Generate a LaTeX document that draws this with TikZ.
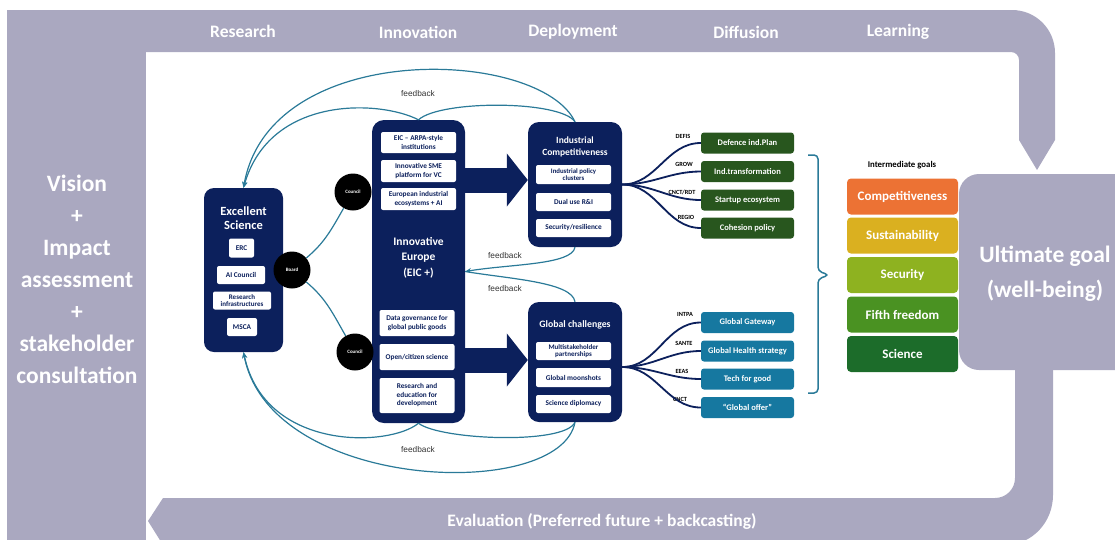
\documentclass[tikz,border=0pt]{standalone}
\usepackage{fontspec}
\setmainfont{Carlito}
\newfontfamily\fbfont{Liberation Sans}
\usetikzlibrary{arrows.meta}
\definecolor{frame}{RGB}{170,168,192}
\definecolor{navy}{RGB}{12,32,92}
\definecolor{fbline}{RGB}{42,122,152}
\definecolor{dgreen}{RGB}{40,86,30}
\definecolor{dblue}{RGB}{22,120,160}
\definecolor{gorange}{RGB}{236,114,52}
\definecolor{gyellow}{RGB}{218,176,32}
\definecolor{glime}{RGB}{142,178,32}
\definecolor{ggreen}{RGB}{74,146,34}
\definecolor{gdark}{RGB}{28,108,42}
\newcommand\fsz[2]{\fontsize{#1}{#2}\selectfont}
\begin{document}
\begin{tikzpicture}[x=1pt,y=-1pt,
  navybox/.style={fill=navy, draw=none, rounded corners=11pt, inner sep=0pt},
  navytitle/.style={text=white, align=center, inner sep=0pt},
  wbox/.style={fill=white, rounded corners=2pt, text=navy, align=center, inner sep=0pt, font=\bfseries\fsz{7.3}{8.5}},
  circ/.style={circle, fill=black, minimum size=37pt, inner sep=0pt, text=white, font=\bfseries\fsz{5}{6}},
  gbox/.style={fill=dgreen, rounded corners=3pt, minimum width=93pt, minimum height=21pt, inner sep=0pt, text=white, font=\bfseries\fsz{8.5}{10}},
  bbox/.style={gbox, fill=dblue},
  goalbox/.style={rounded corners=4pt, minimum width=111pt, minimum height=36pt, inner sep=0pt, text=white, font=\bfseries\fsz{13}{15}},
  dglbl/.style={inner sep=0pt, text=black, font=\bfseries\fsz{6.3}{7}},
  fb/.style={draw=fbline, line width=1.2pt},
  fbtip/.style={-{Stealth[length=6pt,width=5pt]}},
  fblbl/.style={inner sep=0pt, text=black!80, font=\fbfont\fsz{8.3}{9}},
  dg/.style={draw=navy, line width=1.8pt},
  bigarrow/.style={draw=navy, line width=25pt, -{Triangle[length=21pt,width=52pt]}},
  bandlbl/.style={text=white, inner sep=0pt, font=\bfseries\fsz{17.5}{20}},
  brace/.style={draw=fbline, line width=1.5pt, rounded corners=4pt}
]
\useasboundingbox (0,0) rectangle (1115,539);
% ---------- grey frame ----------
\begin{scope}
\clip (0,0) rectangle (1115,539);
\fill[frame] (7,10) rectangle (146,560);
\fill[frame] (140,10) -- (1012,10) to[out=0,in=90] (1055,53) -- (1055,140) -- (1037,170) -- (1019,140) -- (1019,60) to[out=90,in=0] (1011,52) -- (140,52) -- cycle;
\fill[frame] (1015,360) -- (1053,360) -- (1053,495) to[out=-90,in=0] (1005,545) -- (163,545) -- (148,521) -- (163,498) -- (995,498) to[out=0,in=-90] (1015,478) -- cycle;
\end{scope}
\node[fill=frame, rounded corners=20pt, minimum width=180pt, minimum height=196pt, inner sep=0pt] (ult) at (1049,272) {};
\node[text=white, align=center, inner sep=0pt, font=\bfseries\fsz{23.5}{35}] (ultt) at (1045,274) {Ultimate goal\\(well-being)};

\node[bandlbl] (lres) at (243,31) {Research};
\node[bandlbl] (linn) at (418,32) {Innovation};
\node[bandlbl] (ldep) at (573,32) {Deployment};
\node[bandlbl] (ldif) at (746,32) {Diffusion};
\node[bandlbl] (llea) at (898,32) {Learning};
\node[text=white, align=center, inner sep=0pt, font=\bfseries\fsz{23.5}{32}] (vision) at (77,279) {Vision\\+\\Impact\\assessment\\+\\stakeholder\\consultation};
\node[bandlbl] (leval) at (602,521) {Evaluation (Preferred future + backcasting)};

% ---------- Excellent Science ----------
\node[navybox, rounded corners=10pt, minimum width=79pt, minimum height=164pt] (es) at (243.5,270) {};
\node[navytitle, font=\bfseries\fsz{12.5}{14.5}] (est) at (243.5,218) {Excellent\\Science};
\node[wbox, minimum width=25pt, minimum height=19pt] (erc) at (241.5,248) {ERC};
\node[wbox, minimum width=48pt, minimum height=18pt] (aic) at (241,275) {AI Council};
\node[wbox, minimum width=58pt, minimum height=18pt, font=\bfseries\fsz{7}{7.6}] (ri) at (242,300.5) {Research\\infrastructures};
\node[wbox, minimum width=30pt, minimum height=18pt] (msca) at (242,327) {MSCA};

% ---------- Innovative Europe ----------
\node[navybox, rounded corners=12pt, minimum width=93pt, minimum height=303pt] (ie) at (418.5,271.5) {};
\node[wbox, minimum width=75pt, minimum height=21pt] (eic) at (418.5,142.5) {EIC -- ARPA-style\\institutions};
\node[wbox, minimum width=75pt, minimum height=22pt] (sme) at (418.5,171) {Innovative SME\\platform for VC};
\node[wbox, minimum width=75pt, minimum height=22pt] (eco) at (418.5,199) {European industrial\\ecosystems + AI};
\node[navytitle, font=\bfseries\fsz{11.5}{15.5}] (iet) at (418.5,257.5) {Innovative\\Europe\\(EIC +)};
\node[wbox, minimum width=75pt, minimum height=26pt] (dgov) at (417,323) {Data governance for\\global public goods};
\node[wbox, minimum width=75pt, minimum height=26pt] (ocs) at (417,357) {Open/citizen science};
\node[wbox, minimum width=75pt, minimum height=35pt] (red) at (417,395.5) {Research and\\education for\\development};

% ---------- circles ----------
\node[circ] (board) at (292,270) {Board};
\node[circ] (cou1) at (353,192) {Council};
\node[circ] (cou2) at (355,352) {Council};
\draw[fb] (board) to[out=40,in=-120] (cou1);
\draw[fb] (board) to[out=-40,in=120] (cou2);

% ---------- Industrial Competitiveness ----------
\node[navybox, minimum width=94pt, minimum height=125pt] (ic) at (575,184.5) {};
\node[navytitle, font=\bfseries\fsz{9.5}{12}] (ict) at (575,147) {Industrial\\Competitiveness};
\node[wbox, minimum width=75pt, minimum height=19pt, font=\bfseries\fsz{6.8}{7.6}] (ipc) at (573.5,174.5) {Industrial policy\\clusters};
\node[wbox, minimum width=75pt, minimum height=18pt] (dual) at (573.5,202) {Dual use R\&I};
\node[wbox, minimum width=75pt, minimum height=18pt] (sec) at (573.5,228) {Security/resilience};

% ---------- Global challenges ----------
\node[navybox, minimum width=94pt, minimum height=120pt] (gc) at (575,362) {};
\node[navytitle, font=\bfseries\fsz{9.8}{12}] (gct) at (575,325) {Global challenges};
\node[wbox, minimum width=75pt, minimum height=18pt, font=\bfseries\fsz{7}{7.6}] (msp) at (573.5,351) {Multistakeholder\\partnerships};
\node[wbox, minimum width=75pt, minimum height=19pt] (gms) at (573.5,377.5) {Global moonshots};
\node[wbox, minimum width=75pt, minimum height=18pt] (sdip) at (573.5,404) {Science diplomacy};

% ---------- big arrows ----------
\draw[bigarrow] ([yshift=91.5pt]ie.east) -- ([yshift=4.5pt]ic.west);
\draw[bigarrow] ([yshift=-88.5pt]ie.east) -- ([yshift=2pt]gc.west);

% ---------- DG boxes ----------
\node[gbox] (defb) at (747.5,143) {Defence ind.Plan};
\node[gbox] (indt) at (747.5,171.5) {Ind.transformation};
\node[gbox] (stup) at (747.5,200) {Startup ecosystem};
\node[gbox] (cohp) at (747.5,228) {Cohesion policy};
\node[bbox] (ggw) at (747.5,322.5) {Global Gateway};
\node[bbox] (ghs) at (747.5,351) {Global Health strategy};
\node[bbox] (tfg) at (747.5,379) {Tech for good};
\node[bbox] (gof) at (747.5,407.5) {``Global offer''};

\node[dglbl] (ldefis) at (683,136) {DEFIS};
\node[dglbl] (lgrow) at (684,164) {GROW};
\node[dglbl] (lcnct) at (682,192) {CNCT/RDT};
\node[dglbl] (lregio) at (686,217) {REGIO};
\node[dglbl] (lintpa) at (685,314) {INTPA};
\node[dglbl] (lsante) at (684,343) {SANTE};
\node[dglbl] (leeas) at (682,371) {EEAS};
\node[dglbl] (lcnct2) at (680,399) {CNCT};

\foreach \t in {defb,indt,stup,cohp}
  \draw[dg] (ic.east) to[out=0,in=180] (\t.west);
\foreach \t in {ggw,ghs,tfg,gof}
  \draw[dg] ([yshift=-5pt]gc.east) to[out=0,in=180] (\t.west);

% ---------- brace ----------
\draw[brace] (808,155) -- (818,155) -- (818,271) -- (829,275) -- (818,279) -- (818,393) -- (808,393);

% ---------- goals ----------
\node[inner sep=0pt, font=\bfseries\fsz{8.8}{10}] (igl) at (902,165) {Intermediate goals};
\node[goalbox, fill=gorange] (g1) at (902.5,196.5) {Competitiveness};
\node[goalbox, fill=gyellow] (g2) at (902.5,235.5) {Sustainability};
\node[goalbox, fill=glime] (g3) at (902.5,275) {Security};
\node[goalbox, fill=ggreen] (g4) at (902.5,314.5) {Fifth freedom};
\node[goalbox, fill=gdark] (g5) at (902.5,354) {Science};

% ---------- feedback loops ----------
\draw[fb, fbtip] (ic.north) .. controls (540,48) and (270,38) .. (es.north);
\draw[fb, fbtip] (ie.north) .. controls (380,100) and (270,95) .. (es.north);
\draw[fb] (ic.north) .. controls (560,100) and (440,100) .. (ie.north);
\node[fblbl] (fb1) at (418,94) {feedback};

\draw[fb, fbtip] (ic.south) .. controls (572,265) and (510,264) .. (ie.east);
\draw[fb] (gc.north) .. controls (572,282) and (510,279) .. (ie.east);
\node[fblbl] (fb2) at (505,256) {feedback};
\node[fblbl] (fb3) at (505,289) {feedback};

\draw[fb, fbtip] (gc.south) .. controls (560,502) and (270,492) .. (es.south);
\draw[fb, fbtip] (ie.south) .. controls (390,447) and (265,452) .. (es.south);
\draw[fb] (gc.south) .. controls (565,445) and (440,440) .. (ie.south);
\node[fblbl] (fb4) at (418,450) {feedback};
\end{tikzpicture}
\end{document}
